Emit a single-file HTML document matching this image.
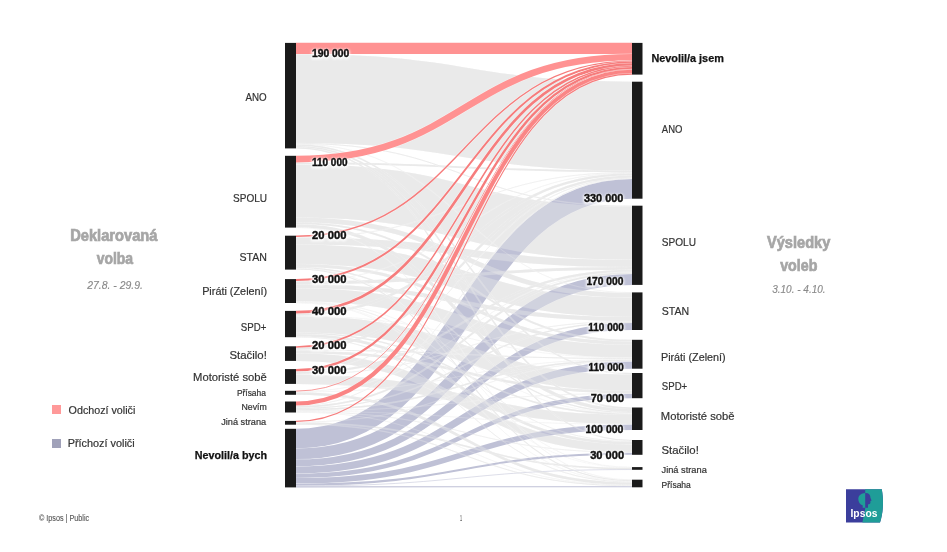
<!DOCTYPE html>
<html><head><meta charset="utf-8"><style>
html,body{margin:0;padding:0;background:#fff;}
svg{display:block;font-family:"Liberation Sans",sans-serif;will-change:transform;}
.v{paint-order:stroke;stroke:#fff;stroke-opacity:0.55;stroke-width:2.2px;stroke-linejoin:round;}
</style></head><body>
<svg width="947" height="552" viewBox="0 0 947 552">
<defs><filter id="glow" x="-20%" y="-50%" width="140%" height="200%"><feOffset dy="1"/><feGaussianBlur stdDeviation="1"/></filter></defs><rect width="947" height="552" fill="#fff"/>
<g fill="none"><path d="M296,98.50C464.0,98.50 464.0,126.06 632,126.06" stroke="#fff" stroke-opacity="0.6" stroke-width="89.45"/><path d="M296,98.50C464.0,98.50 464.0,126.06 632,126.06" stroke="#e5e5e5" stroke-opacity="0.8" stroke-width="88.85"/><path d="M296,190.83C464.0,190.83 464.0,233.23 632,233.23" stroke="#fff" stroke-opacity="0.6" stroke-width="54.00"/><path d="M296,190.83C464.0,190.83 464.0,233.23 632,233.23" stroke="#e5e5e5" stroke-opacity="0.8" stroke-width="53.40"/><path d="M296,254.32C464.0,254.32 464.0,307.31 632,307.31" stroke="#fff" stroke-opacity="0.6" stroke-width="20.11"/><path d="M296,254.32C464.0,254.32 464.0,307.31 632,307.31" stroke="#e5e5e5" stroke-opacity="0.8" stroke-width="19.51"/><path d="M296,324.33C464.0,324.33 464.0,382.61 632,382.61" stroke="#fff" stroke-opacity="0.6" stroke-width="16.96"/><path d="M296,324.33C464.0,324.33 464.0,382.61 632,382.61" stroke="#e5e5e5" stroke-opacity="0.8" stroke-width="16.36"/><path d="M296,294.75C464.0,294.75 464.0,351.14 632,351.14" stroke="#fff" stroke-opacity="0.6" stroke-width="13.62"/><path d="M296,294.75C464.0,294.75 464.0,351.14 632,351.14" stroke="#e5e5e5" stroke-opacity="0.8" stroke-width="13.02"/><path d="M296,379.26C464.0,379.26 464.0,419.43 632,419.43" stroke="#fff" stroke-opacity="0.6" stroke-width="9.86"/><path d="M296,379.26C464.0,379.26 464.0,419.43 632,419.43" stroke="#e5e5e5" stroke-opacity="0.8" stroke-width="9.26"/><path d="M296,357.03C464.0,357.03 464.0,448.23 632,448.23" stroke="#fff" stroke-opacity="0.6" stroke-width="8.33"/><path d="M296,357.03C464.0,357.03 464.0,448.23 632,448.23" stroke="#e5e5e5" stroke-opacity="0.8" stroke-width="7.73"/><path d="M296,241.02C464.0,241.02 464.0,263.42 632,263.42" stroke="#fff" stroke-opacity="0.6" stroke-width="7.66"/><path d="M296,241.02C464.0,241.02 464.0,263.42 632,263.42" stroke="#e5e5e5" stroke-opacity="0.8" stroke-width="7.06"/><path d="M296,219.93C464.0,219.93 464.0,295.22 632,295.22" stroke="#fff" stroke-opacity="0.6" stroke-width="5.32"/><path d="M296,219.93C464.0,219.93 464.0,295.22 632,295.22" stroke="#e5e5e5" stroke-opacity="0.8" stroke-width="4.72"/><path d="M296,286.21C464.0,286.21 464.0,319.07 632,319.07" stroke="#fff" stroke-opacity="0.6" stroke-width="4.64"/><path d="M296,286.21C464.0,286.21 464.0,319.07 632,319.07" stroke="#e5e5e5" stroke-opacity="0.8" stroke-width="4.04"/><path d="M296,225.64C464.0,225.64 464.0,410.53 632,410.53" stroke="#fff" stroke-opacity="0.6" stroke-width="3.66"/><path d="M296,225.64C464.0,225.64 464.0,410.53 632,410.53" stroke="#e5e5e5" stroke-opacity="0.8" stroke-width="3.06"/><path d="M296,265.60C464.0,265.60 464.0,343.12 632,343.12" stroke="#fff" stroke-opacity="0.6" stroke-width="3.63"/><path d="M296,265.60C464.0,265.60 464.0,343.12 632,343.12" stroke="#e5e5e5" stroke-opacity="0.8" stroke-width="3.03"/><path d="M296,282.74C464.0,282.74 464.0,268.38 632,268.38" stroke="#fff" stroke-opacity="0.6" stroke-width="3.47"/><path d="M296,282.74C464.0,282.74 464.0,268.38 632,268.38" stroke="#e5e5e5" stroke-opacity="0.8" stroke-width="2.87"/><path d="M296,335.16C464.0,335.16 464.0,443.06 632,443.06" stroke="#fff" stroke-opacity="0.6" stroke-width="3.22"/><path d="M296,335.16C464.0,335.16 464.0,443.06 632,443.06" stroke="#e5e5e5" stroke-opacity="0.8" stroke-width="2.62"/><path d="M296,393.52C464.0,393.52 464.0,483.60 632,483.60" stroke="#fff" stroke-opacity="0.6" stroke-width="3.16"/><path d="M296,393.52C464.0,393.52 464.0,483.60 632,483.60" stroke="#e5e5e5" stroke-opacity="0.8" stroke-width="2.56"/><path d="M296,351.92C464.0,351.92 464.0,392.02 632,392.02" stroke="#fff" stroke-opacity="0.6" stroke-width="3.08"/><path d="M296,351.92C464.0,351.92 464.0,392.02 632,392.02" stroke="#e5e5e5" stroke-opacity="0.8" stroke-width="2.48"/><path d="M296,314.56C464.0,314.56 464.0,174.42 632,174.42" stroke="#fff" stroke-opacity="0.6" stroke-width="3.01"/><path d="M296,314.56C464.0,314.56 464.0,174.42 632,174.42" stroke="#e5e5e5" stroke-opacity="0.8" stroke-width="2.41"/><path d="M296,348.64C464.0,348.64 464.0,176.70 632,176.70" stroke="#fff" stroke-opacity="0.6" stroke-width="2.76"/><path d="M296,348.64C464.0,348.64 464.0,176.70 632,176.70" stroke="#e5e5e5" stroke-opacity="0.8" stroke-width="2.16"/><path d="M296,372.90C464.0,372.90 464.0,270.85 632,270.85" stroke="#fff" stroke-opacity="0.6" stroke-width="2.66"/><path d="M296,372.90C464.0,372.90 464.0,270.85 632,270.85" stroke="#e5e5e5" stroke-opacity="0.8" stroke-width="2.06"/><path d="M296,223.20C464.0,223.20 464.0,340.71 632,340.71" stroke="#fff" stroke-opacity="0.6" stroke-width="2.41"/><path d="M296,223.20C464.0,223.20 464.0,340.71 632,340.71" stroke="#e5e5e5" stroke-opacity="0.8" stroke-width="1.81"/><path d="M296,406.91C464.0,406.91 464.0,273.19 632,273.19" stroke="#fff" stroke-opacity="0.6" stroke-width="2.39"/><path d="M296,406.91C464.0,406.91 464.0,273.19 632,273.19" stroke="#e5e5e5" stroke-opacity="0.8" stroke-width="1.79"/><path d="M296,163.22C464.0,163.22 464.0,171.30 632,171.30" stroke="#fff" stroke-opacity="0.6" stroke-width="2.35"/><path d="M296,163.22C464.0,163.22 464.0,171.30 632,171.30" stroke="#e5e5e5" stroke-opacity="0.8" stroke-width="1.75"/><path d="M296,409.76C464.0,409.76 464.0,360.18 632,360.18" stroke="#fff" stroke-opacity="0.6" stroke-width="2.13"/><path d="M296,409.76C464.0,409.76 464.0,360.18 632,360.18" stroke="#e5e5e5" stroke-opacity="0.8" stroke-width="1.53"/><path d="M296,146.52C464.0,146.52 464.0,408.25 632,408.25" stroke="#fff" stroke-opacity="0.6" stroke-width="2.11"/><path d="M296,146.52C464.0,146.52 464.0,408.25 632,408.25" stroke="#e5e5e5" stroke-opacity="0.8" stroke-width="1.51"/><path d="M296,423.10C464.0,423.10 464.0,468.52 632,468.52" stroke="#fff" stroke-opacity="0.6" stroke-width="2.09"/><path d="M296,423.10C464.0,423.10 464.0,468.52 632,468.52" stroke="#e5e5e5" stroke-opacity="0.8" stroke-width="1.49"/><path d="M296,145.04C464.0,145.04 464.0,373.72 632,373.72" stroke="#fff" stroke-opacity="0.6" stroke-width="2.05"/><path d="M296,145.04C464.0,145.04 464.0,373.72 632,373.72" stroke="#e5e5e5" stroke-opacity="0.8" stroke-width="1.45"/><path d="M296,333.19C464.0,333.19 464.0,414.14 632,414.14" stroke="#fff" stroke-opacity="0.6" stroke-width="1.92"/><path d="M296,333.19C464.0,333.19 464.0,414.14 632,414.14" stroke="#e5e5e5" stroke-opacity="0.8" stroke-width="1.32"/><path d="M296,408.40C464.0,408.40 464.0,322.37 632,322.37" stroke="#fff" stroke-opacity="0.6" stroke-width="1.80"/><path d="M296,408.40C464.0,408.40 464.0,322.37 632,322.37" stroke="#e5e5e5" stroke-opacity="0.8" stroke-width="1.20"/><path d="M296,147.84C464.0,147.84 464.0,440.56 632,440.56" stroke="#fff" stroke-opacity="0.6" stroke-width="1.73"/><path d="M296,147.84C464.0,147.84 464.0,440.56 632,440.56" stroke="#e5e5e5" stroke-opacity="0.8" stroke-width="1.13"/><path d="M296,269.07C464.0,269.07 464.0,480.65 632,480.65" stroke="#fff" stroke-opacity="0.6" stroke-width="1.66"/><path d="M296,269.07C464.0,269.07 464.0,480.65 632,480.65" stroke="#e5e5e5" stroke-opacity="0.8" stroke-width="1.06"/><path d="M296,267.63C464.0,267.63 464.0,412.58 632,412.58" stroke="#fff" stroke-opacity="0.6" stroke-width="1.62"/><path d="M296,267.63C464.0,267.63 464.0,412.58 632,412.58" stroke="#e5e5e5" stroke-opacity="0.8" stroke-width="1.02"/><path d="M296,350.20C464.0,350.20 464.0,358.50 632,358.50" stroke="#fff" stroke-opacity="0.6" stroke-width="1.56"/><path d="M296,350.20C464.0,350.20 464.0,358.50 632,358.50" stroke="#e5e5e5" stroke-opacity="0.8" stroke-width="0.96"/><path d="M296,143.42C464.0,143.42 464.0,206.13 632,206.13" stroke="#fff" stroke-opacity="0.6" stroke-width="1.47"/><path d="M296,143.42C464.0,143.42 464.0,206.13 632,206.13" stroke="#e5e5e5" stroke-opacity="0.8" stroke-width="0.87"/><path d="M296,424.27C464.0,424.27 464.0,485.73 632,485.73" stroke="#fff" stroke-opacity="0.6" stroke-width="1.46"/><path d="M296,424.27C464.0,424.27 464.0,485.73 632,485.73" stroke="#e5e5e5" stroke-opacity="0.8" stroke-width="0.86"/><path d="M296,336.84C464.0,336.84 464.0,481.96 632,481.96" stroke="#fff" stroke-opacity="0.6" stroke-width="1.33"/><path d="M296,336.84C464.0,336.84 464.0,481.96 632,481.96" stroke="#e5e5e5" stroke-opacity="0.8" stroke-width="0.73"/><path d="M296,374.28C464.0,374.28 464.0,321.43 632,321.43" stroke="#fff" stroke-opacity="0.6" stroke-width="1.29"/><path d="M296,374.28C464.0,374.28 464.0,321.43 632,321.43" stroke="#e5e5e5" stroke-opacity="0.8" stroke-width="0.69"/><path d="M296,371.53C464.0,371.53 464.0,178.12 632,178.12" stroke="#fff" stroke-opacity="0.6" stroke-width="1.28"/><path d="M296,371.53C464.0,371.53 464.0,178.12 632,178.12" stroke="#e5e5e5" stroke-opacity="0.8" stroke-width="0.68"/><path d="M296,411.75C464.0,411.75 464.0,452.41 632,452.41" stroke="#fff" stroke-opacity="0.6" stroke-width="1.25"/><path d="M296,411.75C464.0,411.75 464.0,452.41 632,452.41" stroke="#e5e5e5" stroke-opacity="0.8" stroke-width="0.65"/><path d="M296,301.98C464.0,301.98 464.0,441.44 632,441.44" stroke="#fff" stroke-opacity="0.6" stroke-width="1.22"/><path d="M296,301.98C464.0,301.98 464.0,441.44 632,441.44" stroke="#e5e5e5" stroke-opacity="0.8" stroke-width="0.62"/><path d="M296,405.72C464.0,405.72 464.0,178.76 632,178.76" stroke="#fff" stroke-opacity="0.6" stroke-width="1.19"/><path d="M296,405.72C464.0,405.72 464.0,178.76 632,178.76" stroke="#e5e5e5" stroke-opacity="0.8" stroke-width="0.59"/><path d="M296,237.19C464.0,237.19 464.0,172.47 632,172.47" stroke="#fff" stroke-opacity="0.6" stroke-width="1.19"/><path d="M296,237.19C464.0,237.19 464.0,172.47 632,172.47" stroke="#e5e5e5" stroke-opacity="0.8" stroke-width="0.59"/><path d="M296,422.08C464.0,422.08 464.0,361.22 632,361.22" stroke="#fff" stroke-opacity="0.6" stroke-width="1.15"/><path d="M296,422.08C464.0,422.08 464.0,361.22 632,361.22" stroke="#e5e5e5" stroke-opacity="0.8" stroke-width="0.55"/><path d="M296,410.77C464.0,410.77 464.0,393.50 632,393.50" stroke="#fff" stroke-opacity="0.6" stroke-width="1.08"/><path d="M296,410.77C464.0,410.77 464.0,393.50 632,393.50" stroke="#e5e5e5" stroke-opacity="0.8" stroke-width="0.48"/><path d="M296,144.08C464.0,144.08 464.0,292.63 632,292.63" stroke="#fff" stroke-opacity="0.6" stroke-width="1.06"/><path d="M296,144.08C464.0,144.08 464.0,292.63 632,292.63" stroke="#e5e5e5" stroke-opacity="0.8" stroke-width="0.46"/><path d="M296,281.08C464.0,281.08 464.0,172.99 632,172.99" stroke="#fff" stroke-opacity="0.6" stroke-width="1.06"/><path d="M296,281.08C464.0,281.08 464.0,172.99 632,172.99" stroke="#e5e5e5" stroke-opacity="0.8" stroke-width="0.46"/><path d="M296,392.02C464.0,392.02 464.0,359.19 632,359.19" stroke="#fff" stroke-opacity="0.6" stroke-width="1.04"/><path d="M296,392.02C464.0,392.02 464.0,359.19 632,359.19" stroke="#e5e5e5" stroke-opacity="0.8" stroke-width="0.44"/><path d="M296,412.29C464.0,412.29 464.0,485.09 632,485.09" stroke="#fff" stroke-opacity="0.6" stroke-width="1.03"/><path d="M296,412.29C464.0,412.29 464.0,485.09 632,485.09" stroke="#e5e5e5" stroke-opacity="0.8" stroke-width="0.43"/><path d="M296,391.59C464.0,391.59 464.0,272.09 632,272.09" stroke="#fff" stroke-opacity="0.6" stroke-width="1.03"/><path d="M296,391.59C464.0,391.59 464.0,272.09 632,272.09" stroke="#e5e5e5" stroke-opacity="0.8" stroke-width="0.43"/><path d="M296,227.39C464.0,227.39 464.0,479.91 632,479.91" stroke="#fff" stroke-opacity="0.6" stroke-width="1.02"/><path d="M296,227.39C464.0,227.39 464.0,479.91 632,479.91" stroke="#e5e5e5" stroke-opacity="0.8" stroke-width="0.42"/><path d="M296,411.22C464.0,411.22 464.0,424.26 632,424.26" stroke="#fff" stroke-opacity="0.6" stroke-width="1.01"/><path d="M296,411.22C464.0,411.22 464.0,424.26 632,424.26" stroke="#e5e5e5" stroke-opacity="0.8" stroke-width="0.41"/><path d="M296,302.79C464.0,302.79 464.0,481.39 632,481.39" stroke="#fff" stroke-opacity="0.6" stroke-width="1.01"/><path d="M296,302.79C464.0,302.79 464.0,481.39 632,481.39" stroke="#e5e5e5" stroke-opacity="0.8" stroke-width="0.41"/><path d="M296,301.47C464.0,301.47 464.0,413.29 632,413.29" stroke="#fff" stroke-opacity="0.6" stroke-width="1.00"/><path d="M296,301.47C464.0,301.47 464.0,413.29 632,413.29" stroke="#e5e5e5" stroke-opacity="0.8" stroke-width="0.40"/><path d="M296,268.34C464.0,268.34 464.0,467.30 632,467.30" stroke="#fff" stroke-opacity="0.6" stroke-width="0.99"/><path d="M296,268.34C464.0,268.34 464.0,467.30 632,467.30" stroke="#e5e5e5" stroke-opacity="0.8" stroke-width="0.39"/><path d="M296,315.95C464.0,315.95 464.0,357.83 632,357.83" stroke="#fff" stroke-opacity="0.6" stroke-width="0.97"/><path d="M296,315.95C464.0,315.95 464.0,357.83 632,357.83" stroke="#e5e5e5" stroke-opacity="0.8" stroke-width="0.37"/><path d="M296,302.44C464.0,302.44 464.0,467.64 632,467.64" stroke="#fff" stroke-opacity="0.6" stroke-width="0.89"/><path d="M296,302.44C464.0,302.44 464.0,467.64 632,467.64" stroke="#e5e5e5" stroke-opacity="0.8" stroke-width="0.29"/></g><g fill="none"><path d="M296,438.65C464.0,438.65 464.0,188.88 632,188.88" stroke="#fff" stroke-opacity="0.5" stroke-width="20.27"/><path d="M296,438.65C464.0,438.65 464.0,188.88 632,188.88" stroke="#bfc1d6" stroke-opacity="1" stroke-width="19.67"/><path d="M296,453.92C464.0,453.92 464.0,279.49 632,279.49" stroke="#fff" stroke-opacity="0.5" stroke-width="11.43"/><path d="M296,453.92C464.0,453.92 464.0,279.49 632,279.49" stroke="#bfc1d6" stroke-opacity="1" stroke-width="10.83"/><path d="M296,462.87C464.0,462.87 464.0,326.49 632,326.49" stroke="#fff" stroke-opacity="0.5" stroke-width="7.64"/><path d="M296,462.87C464.0,462.87 464.0,326.49 632,326.49" stroke="#bfc1d6" stroke-opacity="1" stroke-width="7.04"/><path d="M296,470.00C464.0,470.00 464.0,365.10 632,365.10" stroke="#fff" stroke-opacity="0.5" stroke-width="7.82"/><path d="M296,470.00C464.0,470.00 464.0,365.10 632,365.10" stroke="#bfc1d6" stroke-opacity="1" stroke-width="7.22"/><path d="M296,475.85C464.0,475.85 464.0,395.97 632,395.97" stroke="#fff" stroke-opacity="0.5" stroke-width="5.07"/><path d="M296,475.85C464.0,475.85 464.0,395.97 632,395.97" stroke="#bfc1d6" stroke-opacity="1" stroke-width="4.47"/><path d="M296,480.87C464.0,480.87 464.0,427.23 632,427.23" stroke="#fff" stroke-opacity="0.5" stroke-width="6.14"/><path d="M296,480.87C464.0,480.87 464.0,427.23 632,427.23" stroke="#bfc1d6" stroke-opacity="1" stroke-width="5.54"/><path d="M296,484.68C464.0,484.68 464.0,453.77 632,453.77" stroke="#fff" stroke-opacity="0.5" stroke-width="2.67"/><path d="M296,484.68C464.0,484.68 464.0,453.77 632,453.77" stroke="#bfc1d6" stroke-opacity="1" stroke-width="2.07"/><path d="M296,485.98C464.0,485.98 464.0,469.53 632,469.53" stroke="#fff" stroke-opacity="0.5" stroke-width="1.13"/><path d="M296,485.98C464.0,485.98 464.0,469.53 632,469.53" stroke="#bfc1d6" stroke-opacity="1" stroke-width="0.53"/><path d="M296,486.83C464.0,486.83 464.0,486.73 632,486.73" stroke="#fff" stroke-opacity="0.5" stroke-width="1.75"/><path d="M296,486.83C464.0,486.83 464.0,486.73 632,486.73" stroke="#bfc1d6" stroke-opacity="1" stroke-width="1.15"/></g><g fill="none"><path d="M296,98.50C464.0,98.50 464.0,126.06 632,126.06" stroke="#fff" stroke-opacity="0.15" stroke-width="89.45"/><path d="M296,98.50C464.0,98.50 464.0,126.06 632,126.06" stroke="#e5e5e5" stroke-opacity="0.30" stroke-width="88.85"/><path d="M296,190.83C464.0,190.83 464.0,233.23 632,233.23" stroke="#fff" stroke-opacity="0.15" stroke-width="54.00"/><path d="M296,190.83C464.0,190.83 464.0,233.23 632,233.23" stroke="#e5e5e5" stroke-opacity="0.30" stroke-width="53.40"/><path d="M296,254.32C464.0,254.32 464.0,307.31 632,307.31" stroke="#fff" stroke-opacity="0.15" stroke-width="20.11"/><path d="M296,254.32C464.0,254.32 464.0,307.31 632,307.31" stroke="#e5e5e5" stroke-opacity="0.30" stroke-width="19.51"/><path d="M296,324.33C464.0,324.33 464.0,382.61 632,382.61" stroke="#fff" stroke-opacity="0.15" stroke-width="16.96"/><path d="M296,324.33C464.0,324.33 464.0,382.61 632,382.61" stroke="#e5e5e5" stroke-opacity="0.30" stroke-width="16.36"/><path d="M296,294.75C464.0,294.75 464.0,351.14 632,351.14" stroke="#fff" stroke-opacity="0.15" stroke-width="13.62"/><path d="M296,294.75C464.0,294.75 464.0,351.14 632,351.14" stroke="#e5e5e5" stroke-opacity="0.30" stroke-width="13.02"/><path d="M296,379.26C464.0,379.26 464.0,419.43 632,419.43" stroke="#fff" stroke-opacity="0.15" stroke-width="9.86"/><path d="M296,379.26C464.0,379.26 464.0,419.43 632,419.43" stroke="#e5e5e5" stroke-opacity="0.30" stroke-width="9.26"/><path d="M296,357.03C464.0,357.03 464.0,448.23 632,448.23" stroke="#fff" stroke-opacity="0.15" stroke-width="8.33"/><path d="M296,357.03C464.0,357.03 464.0,448.23 632,448.23" stroke="#e5e5e5" stroke-opacity="0.30" stroke-width="7.73"/><path d="M296,241.02C464.0,241.02 464.0,263.42 632,263.42" stroke="#fff" stroke-opacity="0.15" stroke-width="7.66"/><path d="M296,241.02C464.0,241.02 464.0,263.42 632,263.42" stroke="#e5e5e5" stroke-opacity="0.30" stroke-width="7.06"/><path d="M296,219.93C464.0,219.93 464.0,295.22 632,295.22" stroke="#fff" stroke-opacity="0.15" stroke-width="5.32"/><path d="M296,219.93C464.0,219.93 464.0,295.22 632,295.22" stroke="#e5e5e5" stroke-opacity="0.30" stroke-width="4.72"/><path d="M296,286.21C464.0,286.21 464.0,319.07 632,319.07" stroke="#fff" stroke-opacity="0.15" stroke-width="4.64"/><path d="M296,286.21C464.0,286.21 464.0,319.07 632,319.07" stroke="#e5e5e5" stroke-opacity="0.30" stroke-width="4.04"/><path d="M296,225.64C464.0,225.64 464.0,410.53 632,410.53" stroke="#fff" stroke-opacity="0.15" stroke-width="3.66"/><path d="M296,225.64C464.0,225.64 464.0,410.53 632,410.53" stroke="#e5e5e5" stroke-opacity="0.30" stroke-width="3.06"/><path d="M296,265.60C464.0,265.60 464.0,343.12 632,343.12" stroke="#fff" stroke-opacity="0.15" stroke-width="3.63"/><path d="M296,265.60C464.0,265.60 464.0,343.12 632,343.12" stroke="#e5e5e5" stroke-opacity="0.30" stroke-width="3.03"/><path d="M296,282.74C464.0,282.74 464.0,268.38 632,268.38" stroke="#fff" stroke-opacity="0.15" stroke-width="3.47"/><path d="M296,282.74C464.0,282.74 464.0,268.38 632,268.38" stroke="#e5e5e5" stroke-opacity="0.30" stroke-width="2.87"/><path d="M296,335.16C464.0,335.16 464.0,443.06 632,443.06" stroke="#fff" stroke-opacity="0.15" stroke-width="3.22"/><path d="M296,335.16C464.0,335.16 464.0,443.06 632,443.06" stroke="#e5e5e5" stroke-opacity="0.30" stroke-width="2.62"/><path d="M296,393.52C464.0,393.52 464.0,483.60 632,483.60" stroke="#fff" stroke-opacity="0.15" stroke-width="3.16"/><path d="M296,393.52C464.0,393.52 464.0,483.60 632,483.60" stroke="#e5e5e5" stroke-opacity="0.30" stroke-width="2.56"/><path d="M296,351.92C464.0,351.92 464.0,392.02 632,392.02" stroke="#fff" stroke-opacity="0.15" stroke-width="3.08"/><path d="M296,351.92C464.0,351.92 464.0,392.02 632,392.02" stroke="#e5e5e5" stroke-opacity="0.30" stroke-width="2.48"/><path d="M296,314.56C464.0,314.56 464.0,174.42 632,174.42" stroke="#fff" stroke-opacity="0.15" stroke-width="3.01"/><path d="M296,314.56C464.0,314.56 464.0,174.42 632,174.42" stroke="#e5e5e5" stroke-opacity="0.30" stroke-width="2.41"/><path d="M296,348.64C464.0,348.64 464.0,176.70 632,176.70" stroke="#fff" stroke-opacity="0.15" stroke-width="2.76"/><path d="M296,348.64C464.0,348.64 464.0,176.70 632,176.70" stroke="#e5e5e5" stroke-opacity="0.30" stroke-width="2.16"/><path d="M296,372.90C464.0,372.90 464.0,270.85 632,270.85" stroke="#fff" stroke-opacity="0.15" stroke-width="2.66"/><path d="M296,372.90C464.0,372.90 464.0,270.85 632,270.85" stroke="#e5e5e5" stroke-opacity="0.30" stroke-width="2.06"/><path d="M296,223.20C464.0,223.20 464.0,340.71 632,340.71" stroke="#fff" stroke-opacity="0.15" stroke-width="2.41"/><path d="M296,223.20C464.0,223.20 464.0,340.71 632,340.71" stroke="#e5e5e5" stroke-opacity="0.30" stroke-width="1.81"/><path d="M296,406.91C464.0,406.91 464.0,273.19 632,273.19" stroke="#fff" stroke-opacity="0.15" stroke-width="2.39"/><path d="M296,406.91C464.0,406.91 464.0,273.19 632,273.19" stroke="#e5e5e5" stroke-opacity="0.30" stroke-width="1.79"/><path d="M296,163.22C464.0,163.22 464.0,171.30 632,171.30" stroke="#fff" stroke-opacity="0.15" stroke-width="2.35"/><path d="M296,163.22C464.0,163.22 464.0,171.30 632,171.30" stroke="#e5e5e5" stroke-opacity="0.30" stroke-width="1.75"/><path d="M296,409.76C464.0,409.76 464.0,360.18 632,360.18" stroke="#fff" stroke-opacity="0.15" stroke-width="2.13"/><path d="M296,409.76C464.0,409.76 464.0,360.18 632,360.18" stroke="#e5e5e5" stroke-opacity="0.30" stroke-width="1.53"/><path d="M296,146.52C464.0,146.52 464.0,408.25 632,408.25" stroke="#fff" stroke-opacity="0.15" stroke-width="2.11"/><path d="M296,146.52C464.0,146.52 464.0,408.25 632,408.25" stroke="#e5e5e5" stroke-opacity="0.30" stroke-width="1.51"/><path d="M296,423.10C464.0,423.10 464.0,468.52 632,468.52" stroke="#fff" stroke-opacity="0.15" stroke-width="2.09"/><path d="M296,423.10C464.0,423.10 464.0,468.52 632,468.52" stroke="#e5e5e5" stroke-opacity="0.30" stroke-width="1.49"/><path d="M296,145.04C464.0,145.04 464.0,373.72 632,373.72" stroke="#fff" stroke-opacity="0.15" stroke-width="2.05"/><path d="M296,145.04C464.0,145.04 464.0,373.72 632,373.72" stroke="#e5e5e5" stroke-opacity="0.30" stroke-width="1.45"/><path d="M296,333.19C464.0,333.19 464.0,414.14 632,414.14" stroke="#fff" stroke-opacity="0.15" stroke-width="1.92"/><path d="M296,333.19C464.0,333.19 464.0,414.14 632,414.14" stroke="#e5e5e5" stroke-opacity="0.30" stroke-width="1.32"/><path d="M296,408.40C464.0,408.40 464.0,322.37 632,322.37" stroke="#fff" stroke-opacity="0.15" stroke-width="1.80"/><path d="M296,408.40C464.0,408.40 464.0,322.37 632,322.37" stroke="#e5e5e5" stroke-opacity="0.30" stroke-width="1.20"/><path d="M296,147.84C464.0,147.84 464.0,440.56 632,440.56" stroke="#fff" stroke-opacity="0.15" stroke-width="1.73"/><path d="M296,147.84C464.0,147.84 464.0,440.56 632,440.56" stroke="#e5e5e5" stroke-opacity="0.30" stroke-width="1.13"/><path d="M296,269.07C464.0,269.07 464.0,480.65 632,480.65" stroke="#fff" stroke-opacity="0.15" stroke-width="1.66"/><path d="M296,269.07C464.0,269.07 464.0,480.65 632,480.65" stroke="#e5e5e5" stroke-opacity="0.30" stroke-width="1.06"/><path d="M296,267.63C464.0,267.63 464.0,412.58 632,412.58" stroke="#fff" stroke-opacity="0.15" stroke-width="1.62"/><path d="M296,267.63C464.0,267.63 464.0,412.58 632,412.58" stroke="#e5e5e5" stroke-opacity="0.30" stroke-width="1.02"/><path d="M296,350.20C464.0,350.20 464.0,358.50 632,358.50" stroke="#fff" stroke-opacity="0.15" stroke-width="1.56"/><path d="M296,350.20C464.0,350.20 464.0,358.50 632,358.50" stroke="#e5e5e5" stroke-opacity="0.30" stroke-width="0.96"/><path d="M296,143.42C464.0,143.42 464.0,206.13 632,206.13" stroke="#fff" stroke-opacity="0.15" stroke-width="1.47"/><path d="M296,143.42C464.0,143.42 464.0,206.13 632,206.13" stroke="#e5e5e5" stroke-opacity="0.30" stroke-width="0.87"/><path d="M296,424.27C464.0,424.27 464.0,485.73 632,485.73" stroke="#fff" stroke-opacity="0.15" stroke-width="1.46"/><path d="M296,424.27C464.0,424.27 464.0,485.73 632,485.73" stroke="#e5e5e5" stroke-opacity="0.30" stroke-width="0.86"/><path d="M296,336.84C464.0,336.84 464.0,481.96 632,481.96" stroke="#fff" stroke-opacity="0.15" stroke-width="1.33"/><path d="M296,336.84C464.0,336.84 464.0,481.96 632,481.96" stroke="#e5e5e5" stroke-opacity="0.30" stroke-width="0.73"/><path d="M296,374.28C464.0,374.28 464.0,321.43 632,321.43" stroke="#fff" stroke-opacity="0.15" stroke-width="1.29"/><path d="M296,374.28C464.0,374.28 464.0,321.43 632,321.43" stroke="#e5e5e5" stroke-opacity="0.30" stroke-width="0.69"/><path d="M296,371.53C464.0,371.53 464.0,178.12 632,178.12" stroke="#fff" stroke-opacity="0.15" stroke-width="1.28"/><path d="M296,371.53C464.0,371.53 464.0,178.12 632,178.12" stroke="#e5e5e5" stroke-opacity="0.30" stroke-width="0.68"/><path d="M296,411.75C464.0,411.75 464.0,452.41 632,452.41" stroke="#fff" stroke-opacity="0.15" stroke-width="1.25"/><path d="M296,411.75C464.0,411.75 464.0,452.41 632,452.41" stroke="#e5e5e5" stroke-opacity="0.30" stroke-width="0.65"/><path d="M296,301.98C464.0,301.98 464.0,441.44 632,441.44" stroke="#fff" stroke-opacity="0.15" stroke-width="1.22"/><path d="M296,301.98C464.0,301.98 464.0,441.44 632,441.44" stroke="#e5e5e5" stroke-opacity="0.30" stroke-width="0.62"/><path d="M296,405.72C464.0,405.72 464.0,178.76 632,178.76" stroke="#fff" stroke-opacity="0.15" stroke-width="1.19"/><path d="M296,405.72C464.0,405.72 464.0,178.76 632,178.76" stroke="#e5e5e5" stroke-opacity="0.30" stroke-width="0.59"/><path d="M296,237.19C464.0,237.19 464.0,172.47 632,172.47" stroke="#fff" stroke-opacity="0.15" stroke-width="1.19"/><path d="M296,237.19C464.0,237.19 464.0,172.47 632,172.47" stroke="#e5e5e5" stroke-opacity="0.30" stroke-width="0.59"/><path d="M296,422.08C464.0,422.08 464.0,361.22 632,361.22" stroke="#fff" stroke-opacity="0.15" stroke-width="1.15"/><path d="M296,422.08C464.0,422.08 464.0,361.22 632,361.22" stroke="#e5e5e5" stroke-opacity="0.30" stroke-width="0.55"/><path d="M296,410.77C464.0,410.77 464.0,393.50 632,393.50" stroke="#fff" stroke-opacity="0.15" stroke-width="1.08"/><path d="M296,410.77C464.0,410.77 464.0,393.50 632,393.50" stroke="#e5e5e5" stroke-opacity="0.30" stroke-width="0.48"/><path d="M296,144.08C464.0,144.08 464.0,292.63 632,292.63" stroke="#fff" stroke-opacity="0.15" stroke-width="1.06"/><path d="M296,144.08C464.0,144.08 464.0,292.63 632,292.63" stroke="#e5e5e5" stroke-opacity="0.30" stroke-width="0.46"/><path d="M296,281.08C464.0,281.08 464.0,172.99 632,172.99" stroke="#fff" stroke-opacity="0.15" stroke-width="1.06"/><path d="M296,281.08C464.0,281.08 464.0,172.99 632,172.99" stroke="#e5e5e5" stroke-opacity="0.30" stroke-width="0.46"/><path d="M296,392.02C464.0,392.02 464.0,359.19 632,359.19" stroke="#fff" stroke-opacity="0.15" stroke-width="1.04"/><path d="M296,392.02C464.0,392.02 464.0,359.19 632,359.19" stroke="#e5e5e5" stroke-opacity="0.30" stroke-width="0.44"/><path d="M296,412.29C464.0,412.29 464.0,485.09 632,485.09" stroke="#fff" stroke-opacity="0.15" stroke-width="1.03"/><path d="M296,412.29C464.0,412.29 464.0,485.09 632,485.09" stroke="#e5e5e5" stroke-opacity="0.30" stroke-width="0.43"/><path d="M296,391.59C464.0,391.59 464.0,272.09 632,272.09" stroke="#fff" stroke-opacity="0.15" stroke-width="1.03"/><path d="M296,391.59C464.0,391.59 464.0,272.09 632,272.09" stroke="#e5e5e5" stroke-opacity="0.30" stroke-width="0.43"/><path d="M296,227.39C464.0,227.39 464.0,479.91 632,479.91" stroke="#fff" stroke-opacity="0.15" stroke-width="1.02"/><path d="M296,227.39C464.0,227.39 464.0,479.91 632,479.91" stroke="#e5e5e5" stroke-opacity="0.30" stroke-width="0.42"/><path d="M296,411.22C464.0,411.22 464.0,424.26 632,424.26" stroke="#fff" stroke-opacity="0.15" stroke-width="1.01"/><path d="M296,411.22C464.0,411.22 464.0,424.26 632,424.26" stroke="#e5e5e5" stroke-opacity="0.30" stroke-width="0.41"/><path d="M296,302.79C464.0,302.79 464.0,481.39 632,481.39" stroke="#fff" stroke-opacity="0.15" stroke-width="1.01"/><path d="M296,302.79C464.0,302.79 464.0,481.39 632,481.39" stroke="#e5e5e5" stroke-opacity="0.30" stroke-width="0.41"/><path d="M296,301.47C464.0,301.47 464.0,413.29 632,413.29" stroke="#fff" stroke-opacity="0.15" stroke-width="1.00"/><path d="M296,301.47C464.0,301.47 464.0,413.29 632,413.29" stroke="#e5e5e5" stroke-opacity="0.30" stroke-width="0.40"/><path d="M296,268.34C464.0,268.34 464.0,467.30 632,467.30" stroke="#fff" stroke-opacity="0.15" stroke-width="0.99"/><path d="M296,268.34C464.0,268.34 464.0,467.30 632,467.30" stroke="#e5e5e5" stroke-opacity="0.30" stroke-width="0.39"/><path d="M296,315.95C464.0,315.95 464.0,357.83 632,357.83" stroke="#fff" stroke-opacity="0.15" stroke-width="0.97"/><path d="M296,315.95C464.0,315.95 464.0,357.83 632,357.83" stroke="#e5e5e5" stroke-opacity="0.30" stroke-width="0.37"/><path d="M296,302.44C464.0,302.44 464.0,467.64 632,467.64" stroke="#fff" stroke-opacity="0.15" stroke-width="0.89"/><path d="M296,302.44C464.0,302.44 464.0,467.64 632,467.64" stroke="#e5e5e5" stroke-opacity="0.30" stroke-width="0.29"/></g><g fill="none"><path d="M296,48.46C464.0,48.46 464.0,48.44 632,48.44" stroke="#fff" stroke-opacity="0.5" stroke-width="12.30"/><path d="M296,48.46C464.0,48.46 464.0,48.44 632,48.44" stroke="#ff9292" stroke-width="11.30"/><path d="M296,159.07C464.0,159.07 464.0,57.25 632,57.25" stroke="#fff" stroke-opacity="0.5" stroke-width="7.73"/><path d="M296,159.07C464.0,159.07 464.0,57.25 632,57.25" stroke="#ff9292" stroke-width="6.73"/><path d="M296,236.30C464.0,236.30 464.0,61.10 632,61.10" stroke="#fff" stroke-opacity="0.5" stroke-width="2.39"/><path d="M296,236.30C464.0,236.30 464.0,61.10 632,61.10" stroke="#f67c7c" stroke-width="1.39"/><path d="M296,279.97C464.0,279.97 464.0,62.57 632,62.57" stroke="#fff" stroke-opacity="0.5" stroke-width="2.94"/><path d="M296,279.97C464.0,279.97 464.0,62.57 632,62.57" stroke="#f67c7c" stroke-width="1.94"/><path d="M296,312.13C464.0,312.13 464.0,64.66 632,64.66" stroke="#fff" stroke-opacity="0.5" stroke-width="3.65"/><path d="M296,312.13C464.0,312.13 464.0,64.66 632,64.66" stroke="#f67d7d" stroke-width="2.65"/><path d="M296,346.93C464.0,346.93 464.0,66.51 632,66.51" stroke="#fff" stroke-opacity="0.5" stroke-width="2.45"/><path d="M296,346.93C464.0,346.93 464.0,66.51 632,66.51" stroke="#f67c7c" stroke-width="1.45"/><path d="M296,370.14C464.0,370.14 464.0,68.18 632,68.18" stroke="#fff" stroke-opacity="0.5" stroke-width="3.28"/><path d="M296,370.14C464.0,370.14 464.0,68.18 632,68.18" stroke="#f67c7c" stroke-width="2.28"/><path d="M296,391.09C464.0,391.09 464.0,69.51 632,69.51" stroke="#fff" stroke-opacity="0.5" stroke-width="1.77"/><path d="M296,391.09C464.0,391.09 464.0,69.51 632,69.51" stroke="#f67c7c" stroke-width="0.77"/><path d="M296,403.46C464.0,403.46 464.0,71.75 632,71.75" stroke="#fff" stroke-opacity="0.5" stroke-width="5.11"/><path d="M296,403.46C464.0,403.46 464.0,71.75 632,71.75" stroke="#fa8585" stroke-width="4.11"/><path d="M296,421.35C464.0,421.35 464.0,74.15 632,74.15" stroke="#fff" stroke-opacity="0.5" stroke-width="2.10"/><path d="M296,421.35C464.0,421.35 464.0,74.15 632,74.15" stroke="#f67c7c" stroke-width="1.10"/></g><g fill="#1a1a1a"><rect x="285" y="42.9" width="11" height="105.50"/><rect x="285" y="155.8" width="11" height="71.80"/><rect x="285" y="235.7" width="11" height="33.90"/><rect x="285" y="279.1" width="11" height="23.90"/><rect x="285" y="310.9" width="11" height="26.30"/><rect x="285" y="346.3" width="11" height="14.60"/><rect x="285" y="369.1" width="11" height="14.80"/><rect x="285" y="390.8" width="11" height="4.00"/><rect x="285" y="401.5" width="11" height="11.00"/><rect x="285" y="420.9" width="11" height="3.80"/><rect x="285" y="428.8" width="11" height="58.60"/><rect x="632" y="42.9" width="10.5" height="31.70"/><rect x="632" y="81.7" width="10.5" height="117.00"/><rect x="632" y="205.7" width="10.5" height="79.20"/><rect x="632" y="292.4" width="10.5" height="37.60"/><rect x="632" y="339.8" width="10.5" height="28.90"/><rect x="632" y="373.0" width="10.5" height="25.20"/><rect x="632" y="407.5" width="10.5" height="22.50"/><rect x="632" y="440.0" width="10.5" height="14.80"/><rect x="632" y="467.1" width="10.5" height="2.70"/><rect x="632" y="479.7" width="10.5" height="7.60"/></g><text x="245.40" y="101.30" font-size="11.48" textLength="21.18" lengthAdjust="spacingAndGlyphs" fill="#333333" stroke="#333333" stroke-width="0.2">ANO</text><text x="233.00" y="201.80" font-size="11.48" textLength="34.08" lengthAdjust="spacingAndGlyphs" fill="#333333" stroke="#333333" stroke-width="0.2">SPOLU</text><text x="239.50" y="261.00" font-size="11.48" textLength="27.49" lengthAdjust="spacingAndGlyphs" fill="#333333" stroke="#333333" stroke-width="0.2">STAN</text><text x="202.13" y="294.60" font-size="11.19" textLength="65.12" lengthAdjust="spacingAndGlyphs" fill="#333333" stroke="#333333" stroke-width="0.2">Piráti (Zelení)</text><text x="240.80" y="330.60" font-size="11.48" textLength="25.64" lengthAdjust="spacingAndGlyphs" fill="#333333" stroke="#333333" stroke-width="0.2">SPD+</text><text x="229.40" y="358.80" font-size="11.48" textLength="37.42" lengthAdjust="spacingAndGlyphs" fill="#333333" stroke="#333333" stroke-width="0.2">Stačilo!</text><text x="193.12" y="380.70" font-size="11.48" textLength="73.71" lengthAdjust="spacingAndGlyphs" fill="#333333" stroke="#333333" stroke-width="0.2">Motoristé sobě</text><text x="236.90" y="395.50" font-size="9.16" textLength="29.05" lengthAdjust="spacingAndGlyphs" fill="#333333" stroke="#333333" stroke-width="0.2">Přísaha</text><text x="241.50" y="410.40" font-size="9.16" textLength="25.30" lengthAdjust="spacingAndGlyphs" fill="#333333" stroke="#333333" stroke-width="0.2">Nevím</text><text x="221.20" y="425.40" font-size="9.16" textLength="44.92" lengthAdjust="spacingAndGlyphs" fill="#333333" stroke="#333333" stroke-width="0.2">Jiná strana</text><text x="194.80" y="458.60" font-size="10.90" textLength="72.35" lengthAdjust="spacingAndGlyphs" font-weight="bold" fill="#111111" stroke="#111111" stroke-width="0.25">Nevolil/a bych</text><text x="651.40" y="61.60" font-size="10.90" textLength="72.44" lengthAdjust="spacingAndGlyphs" font-weight="bold" fill="#111111" stroke="#111111" stroke-width="0.25">Nevolil/a jsem</text><text x="661.80" y="133.10" font-size="11.48" textLength="20.58" lengthAdjust="spacingAndGlyphs" fill="#333333" stroke="#333333" stroke-width="0.2">ANO</text><text x="661.80" y="246.00" font-size="11.48" textLength="34.18" lengthAdjust="spacingAndGlyphs" fill="#333333" stroke="#333333" stroke-width="0.2">SPOLU</text><text x="661.80" y="315.40" font-size="11.48" textLength="27.39" lengthAdjust="spacingAndGlyphs" fill="#333333" stroke="#333333" stroke-width="0.2">STAN</text><text x="660.94" y="361.20" font-size="11.19" textLength="64.71" lengthAdjust="spacingAndGlyphs" fill="#333333" stroke="#333333" stroke-width="0.2">Piráti (Zelení)</text><text x="661.80" y="390.20" font-size="11.48" textLength="25.44" lengthAdjust="spacingAndGlyphs" fill="#333333" stroke="#333333" stroke-width="0.2">SPD+</text><text x="660.82" y="419.50" font-size="11.48" textLength="73.71" lengthAdjust="spacingAndGlyphs" fill="#333333" stroke="#333333" stroke-width="0.2">Motoristé sobě</text><text x="661.50" y="453.50" font-size="11.48" textLength="37.32" lengthAdjust="spacingAndGlyphs" fill="#333333" stroke="#333333" stroke-width="0.2">Stačilo!</text><text x="661.50" y="472.50" font-size="9.16" textLength="45.32" lengthAdjust="spacingAndGlyphs" fill="#333333" stroke="#333333" stroke-width="0.2">Jiná strana</text><text x="661.50" y="488.40" font-size="9.16" textLength="29.35" lengthAdjust="spacingAndGlyphs" fill="#333333" stroke="#333333" stroke-width="0.2">Přísaha</text><text x="70.16" y="240.80" font-size="15.70" textLength="87.29" lengthAdjust="spacingAndGlyphs" font-weight="bold" fill="#a6a6a6" stroke="#a6a6a6" stroke-width="0.7">Deklarovaná</text><text x="96.70" y="264.00" font-size="15.70" textLength="36.39" lengthAdjust="spacingAndGlyphs" font-weight="bold" fill="#a6a6a6" stroke="#a6a6a6" stroke-width="0.7">volba</text><text x="87.20" y="289.00" font-size="11.63" textLength="55.67" lengthAdjust="spacingAndGlyphs" font-style="italic" fill="#8a8a8a" stroke="#8a8a8a" stroke-width="0.15">27.8. - 29.9.</text><text x="767.00" y="247.60" font-size="15.70" textLength="63.33" lengthAdjust="spacingAndGlyphs" font-weight="bold" fill="#a6a6a6" stroke="#a6a6a6" stroke-width="0.7">Výsledky</text><text x="780.20" y="270.80" font-size="15.70" textLength="37.19" lengthAdjust="spacingAndGlyphs" font-weight="bold" fill="#a6a6a6" stroke="#a6a6a6" stroke-width="0.7">voleb</text><text x="772.20" y="293.00" font-size="11.63" textLength="53.44" lengthAdjust="spacingAndGlyphs" font-style="italic" fill="#8a8a8a" stroke="#8a8a8a" stroke-width="0.15">3.10. - 4.10.</text><text x="68.60" y="413.80" font-size="11.19" textLength="66.71" lengthAdjust="spacingAndGlyphs" fill="#333333" stroke="#333333" stroke-width="0.2">Odchozí voliči</text><text x="67.63" y="447.40" font-size="11.19" textLength="67.09" lengthAdjust="spacingAndGlyphs" fill="#333333" stroke="#333333" stroke-width="0.2">Příchozí voliči</text><text x="38.90" y="520.70" font-size="8.43" textLength="50.22" lengthAdjust="spacingAndGlyphs" fill="#555555" stroke="#555555" stroke-width="0.1">© Ipsos | Public</text><text x="459.90" y="520.70" font-size="8.43" textLength="2.06" lengthAdjust="spacingAndGlyphs" fill="#555555" stroke="#555555" stroke-width="0.1">1</text><text x="312.00" y="57.00" font-size="11.34" textLength="37.26" lengthAdjust="spacingAndGlyphs" font-weight="bold" fill="#fff" stroke="#fff" stroke-width="2.5" filter="url(#glow)" opacity="0.9">190 000</text><text x="312.00" y="57.00" font-size="11.34" textLength="37.26" lengthAdjust="spacingAndGlyphs" font-weight="bold" fill="#111" stroke="#111" stroke-width="0.45">190 000</text><text x="312.00" y="165.60" font-size="11.34" textLength="35.49" lengthAdjust="spacingAndGlyphs" font-weight="bold" fill="#fff" stroke="#fff" stroke-width="2.5" filter="url(#glow)" opacity="0.9">110 000</text><text x="312.00" y="165.60" font-size="11.34" textLength="35.49" lengthAdjust="spacingAndGlyphs" font-weight="bold" fill="#111" stroke="#111" stroke-width="0.45">110 000</text><text x="312.10" y="238.90" font-size="11.34" textLength="34.35" lengthAdjust="spacingAndGlyphs" font-weight="bold" fill="#fff" stroke="#fff" stroke-width="2.5" filter="url(#glow)" opacity="0.9">20 000</text><text x="312.10" y="238.90" font-size="11.34" textLength="34.35" lengthAdjust="spacingAndGlyphs" font-weight="bold" fill="#111" stroke="#111" stroke-width="0.45">20 000</text><text x="312.10" y="282.70" font-size="11.34" textLength="34.35" lengthAdjust="spacingAndGlyphs" font-weight="bold" fill="#fff" stroke="#fff" stroke-width="2.5" filter="url(#glow)" opacity="0.9">30 000</text><text x="312.10" y="282.70" font-size="11.34" textLength="34.35" lengthAdjust="spacingAndGlyphs" font-weight="bold" fill="#111" stroke="#111" stroke-width="0.45">30 000</text><text x="312.10" y="315.30" font-size="11.34" textLength="34.55" lengthAdjust="spacingAndGlyphs" font-weight="bold" fill="#fff" stroke="#fff" stroke-width="2.5" filter="url(#glow)" opacity="0.9">40 000</text><text x="312.10" y="315.30" font-size="11.34" textLength="34.55" lengthAdjust="spacingAndGlyphs" font-weight="bold" fill="#111" stroke="#111" stroke-width="0.45">40 000</text><text x="312.10" y="348.60" font-size="11.34" textLength="34.35" lengthAdjust="spacingAndGlyphs" font-weight="bold" fill="#fff" stroke="#fff" stroke-width="2.5" filter="url(#glow)" opacity="0.9">20 000</text><text x="312.10" y="348.60" font-size="11.34" textLength="34.35" lengthAdjust="spacingAndGlyphs" font-weight="bold" fill="#111" stroke="#111" stroke-width="0.45">20 000</text><text x="312.10" y="374.00" font-size="11.34" textLength="34.35" lengthAdjust="spacingAndGlyphs" font-weight="bold" fill="#fff" stroke="#fff" stroke-width="2.5" filter="url(#glow)" opacity="0.9">30 000</text><text x="312.10" y="374.00" font-size="11.34" textLength="34.35" lengthAdjust="spacingAndGlyphs" font-weight="bold" fill="#111" stroke="#111" stroke-width="0.45">30 000</text><text x="583.90" y="201.60" font-size="11.34" textLength="39.45" lengthAdjust="spacingAndGlyphs" font-weight="bold" fill="#fff" stroke="#fff" stroke-width="2.5" filter="url(#glow)" opacity="0.9">330 000</text><text x="583.90" y="201.60" font-size="11.34" textLength="39.45" lengthAdjust="spacingAndGlyphs" font-weight="bold" fill="#111" stroke="#111" stroke-width="0.45">330 000</text><text x="586.40" y="284.80" font-size="11.34" textLength="37.06" lengthAdjust="spacingAndGlyphs" font-weight="bold" fill="#fff" stroke="#fff" stroke-width="2.5" filter="url(#glow)" opacity="0.9">170 000</text><text x="586.40" y="284.80" font-size="11.34" textLength="37.06" lengthAdjust="spacingAndGlyphs" font-weight="bold" fill="#111" stroke="#111" stroke-width="0.45">170 000</text><text x="588.30" y="331.30" font-size="11.34" textLength="35.49" lengthAdjust="spacingAndGlyphs" font-weight="bold" fill="#fff" stroke="#fff" stroke-width="2.5" filter="url(#glow)" opacity="0.9">110 000</text><text x="588.30" y="331.30" font-size="11.34" textLength="35.49" lengthAdjust="spacingAndGlyphs" font-weight="bold" fill="#111" stroke="#111" stroke-width="0.45">110 000</text><text x="588.50" y="370.50" font-size="11.34" textLength="35.29" lengthAdjust="spacingAndGlyphs" font-weight="bold" fill="#fff" stroke="#fff" stroke-width="2.5" filter="url(#glow)" opacity="0.9">110 000</text><text x="588.50" y="370.50" font-size="11.34" textLength="35.29" lengthAdjust="spacingAndGlyphs" font-weight="bold" fill="#111" stroke="#111" stroke-width="0.45">110 000</text><text x="590.70" y="401.50" font-size="11.34" textLength="33.43" lengthAdjust="spacingAndGlyphs" font-weight="bold" fill="#fff" stroke="#fff" stroke-width="2.5" filter="url(#glow)" opacity="0.9">70 000</text><text x="590.70" y="401.50" font-size="11.34" textLength="33.43" lengthAdjust="spacingAndGlyphs" font-weight="bold" fill="#111" stroke="#111" stroke-width="0.45">70 000</text><text x="585.40" y="433.10" font-size="11.34" textLength="38.06" lengthAdjust="spacingAndGlyphs" font-weight="bold" fill="#fff" stroke="#fff" stroke-width="2.5" filter="url(#glow)" opacity="0.9">100 000</text><text x="585.40" y="433.10" font-size="11.34" textLength="38.06" lengthAdjust="spacingAndGlyphs" font-weight="bold" fill="#111" stroke="#111" stroke-width="0.45">100 000</text><text x="590.20" y="458.50" font-size="11.34" textLength="33.94" lengthAdjust="spacingAndGlyphs" font-weight="bold" fill="#fff" stroke="#fff" stroke-width="2.5" filter="url(#glow)" opacity="0.9">30 000</text><text x="590.20" y="458.50" font-size="11.34" textLength="33.94" lengthAdjust="spacingAndGlyphs" font-weight="bold" fill="#111" stroke="#111" stroke-width="0.45">30 000</text><rect x="52" y="405" width="9" height="9" fill="#ff9999"/><rect x="52" y="439" width="9" height="9" fill="#a0a1b9"/><g transform="translate(846,489.2)">
<defs><clipPath id="lh"><rect x="19.2" y="0" width="20" height="20"/></clipPath></defs>
<path d="M0,0 H35.8 C37.6,10 37.6,22 34,33.4 H0 Z" fill="#3b3e9c"/>
<path d="M19.2,0 H35.8 C37.6,10 37.6,22 34,33.4 H16.4 C17.2,28 19.2,23 19.2,18.6 Z" fill="#1f9d98"/>
<path id="hd" d="M19.2,3.8 C22.8,3.6 24.6,6 24.4,8.6 L25.6,11.2 L24.4,11.8 L24.4,13.6 C24.2,15 23,15.2 22,15.3 L22,18.6 L16.6,18.6 L16.8,16.4 C13.8,15.2 12.3,12.6 12.3,9.8 C12.3,6.2 15.4,3.9 19.2,3.8 Z" fill="#1f9d98"/>
<path d="M19.2,3.8 C22.8,3.6 24.6,6 24.4,8.6 L25.6,11.2 L24.4,11.8 L24.4,13.6 C24.2,15 23,15.2 22,15.3 L22,18.6 L16.6,18.6 L16.8,16.4 C13.8,15.2 12.3,12.6 12.3,9.8 C12.3,6.2 15.4,3.9 19.2,3.8 Z" fill="#3b3e9c" clip-path="url(#lh)"/>
<text x="4.5" y="27.4" font-size="10.8" font-weight="bold" fill="#fff" textLength="26.9" lengthAdjust="spacingAndGlyphs">Ipsos</text>
</g>
</svg></body></html>
